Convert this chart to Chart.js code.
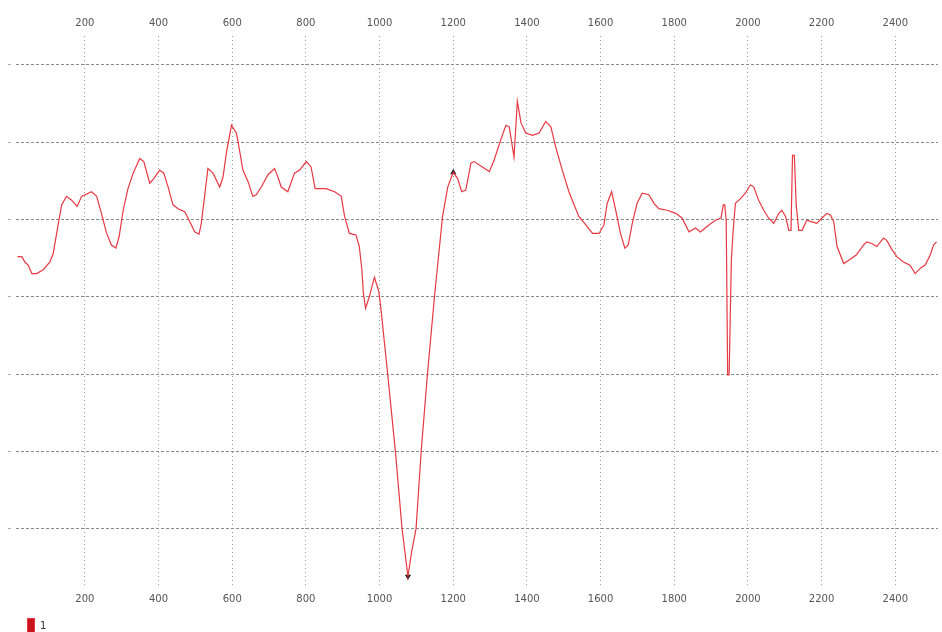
<!DOCTYPE html>
<html>
<head>
<meta charset="utf-8">
<script src="https://cdn.jsdelivr.net/npm/chart.js@4/dist/chart.umd.min.js"></script>
<style>
html,body{margin:0;padding:0;background:#fff;}
#wrap{width:942px;height:632px;overflow:hidden;}
</style>
</head>
<body>
<div id="wrap"><canvas id="c" width="942" height="632"></canvas></div>
<script>
const seriesLabel = '1';
const xValues = [
  17,29,37,46,56,69,87,105,114,128,
  137,150,164,179,191,218,232,245,259,272,
  284,293,304,317,331,349,360,376,387,403,
  414,426,439,453,471,485,498,510,516,525,
  534,548,566,575,584,598,611,615,629,643,
  656,665,679,697,715,724,733,751,769,783,
  801,814,825,855,878,896,905,918,936,945,
  952,956,962,972,986,998,1004,1022,1043,1061,
  1077,1087,1099,1113,1130,1149,1171,1185,1200,1212,
  1223,1234,1248,1257,1279,1298,1311,1329,1343,1352,
  1365,1374,1384,1397,1415,1433,1451,1465,1478,1496,
  1514,1528,1541,1560,1578,1596,1609,1618,1630,1641,
  1654,1666,1675,1686,1699,1713,1731,1745,1758,1781,
  1804,1821,1840,1858,1871,1894,1912,1927,1933,1937,
  1941,1945,1949,1955,1960,1966,1980,1993,2007,2016,
  2029,2043,2056,2070,2084,2092,2102,2111,2117,2121,
  2126,2131,2138,2147,2160,2174,2187,2201,2214,2224,
  2233,2242,2260,2276,2294,2314,2323,2336,2350,2368,
  2377,2391,2404,2422,2440,2454,2468,2481,2495,2504,2512
];
const yValues = [
  35.2,35.2,34.5,34.1,33.0,33.0,33.5,34.5,35.6,39.5,
  41.9,43.0,42.5,41.7,43.0,43.6,43.0,40.8,38.2,36.7,
  36.3,37.8,41.2,44.0,46.0,47.9,47.5,44.7,45.3,46.4,
  46.0,44.2,41.9,41.4,41.0,39.7,38.4,38.1,39.5,43.0,
  46.6,46.0,44.2,45.5,48.6,52.2,51.2,50.3,46.4,44.9,
  43.0,43.2,44.2,45.8,46.6,45.5,44.2,43.6,46.0,46.4,
  47.5,46.8,44.0,44.0,43.6,43.0,40.4,38.2,38.0,36.5,
  33.5,30.5,28.5,30.0,32.5,30.7,28.3,20.0,10.0,0.0,
  -6.2,-3.0,0.0,10.0,20.0,30.0,40.4,44.2,46.1,45.3,
  43.6,43.8,47.3,47.5,46.8,46.2,47.7,50.3,52.2,52.0,
  48.1,55.3,52.5,51.2,50.9,51.2,52.7,52.0,49.4,46.4,
  43.6,41.9,40.4,39.3,38.2,38.2,39.3,42.1,43.6,41.2,
  38.2,36.3,36.7,39.5,42.1,43.4,43.2,42.1,41.4,41.2,
  40.8,40.2,38.4,38.9,38.4,39.3,39.9,40.2,41.9,41.9,
  39.9,19.9,19.9,34.8,38.6,42.1,42.7,43.4,44.5,44.2,
  42.5,41.2,40.2,39.5,40.8,41.2,40.4,38.6,38.6,48.3,
  48.3,41.9,38.6,38.6,39.9,39.7,39.5,40.2,40.8,40.6,
  39.7,36.5,34.3,34.8,35.4,36.7,37.1,36.9,36.5,37.6,
  37.3,36.1,35.2,34.5,34.1,33.0,33.7,34.1,35.4,36.7,37.1
];
const markerX = [1200, 1077];
const markerY = [46.1, -6.2];
const markerRotation = [0, 180];
const xTickValues = [200,400,600,800,1000,1200,1400,1600,1800,2000,2200,2400];
const yGridValues = [0,10,20,30,40,50,60];
const X_MIN = 13, X_MAX = 2516, Y_MIN = -7.3, Y_MAX = 63.75;

const tickFont = {family: 'DejaVu Sans', size: 10};
const tickColor = '#555';

// legend swatch drawn below the plot, using the first dataset's label and colours
const swatchLegend = {
  id: 'swatchLegend',
  afterDraw(chart) {
    const ds = chart.data.datasets[0];
    const ctx = chart.ctx;
    ctx.save();
    ctx.fillStyle = ds.backgroundColor;
    ctx.strokeStyle = ds.borderColor;
    ctx.lineWidth = 1;
    ctx.fillRect(27, 618, 8, 16);
    ctx.strokeRect(27.5, 618.5, 7, 15);
    ctx.fillStyle = '#333';
    ctx.font = '10px "DejaVu Sans"';
    ctx.textBaseline = 'middle';
    ctx.textAlign = 'left';
    ctx.fillText(ds.label, 40, 626);
    ctx.restore();
  }
};

new Chart(document.getElementById('c').getContext('2d'), {
  type: 'line',
  data: {
    datasets: [
      {
        label: seriesLabel,
        data: xValues.map((x, i) => ({x: x, y: yValues[i]})),
        borderColor: 'rgb(232,56,66)',
        backgroundColor: '#c8141e',
        borderWidth: 1.2,
        pointRadius: 0,
        tension: 0
      },
      {
        label: 'markers',
        data: markerX.map((x, i) => ({x: x, y: markerY[i]})),
        showLine: false,
        pointStyle: 'triangle',
        pointRadius: 3.5,
        pointRotation: markerRotation,
        pointBackgroundColor: '#111',
        pointBorderColor: '#111',
        borderWidth: 0
      }
    ]
  },
  plugins: [swatchLegend],
  options: {
    responsive: false,
    animation: false,
    devicePixelRatio: 1,
    layout: {padding: {left: 0, right: 2, top: 0, bottom: 0}},
    plugins: {
      legend: {display: false},
      tooltip: {enabled: false}
    },
    scales: {
      x: {
        type: 'linear',
        position: 'bottom',
        min: X_MIN,
        max: X_MAX,
        afterBuildTicks: (a) => { a.ticks = xTickValues.map(v => ({value: v})); },
        afterFit: (s) => { s.height = 47; },
        grid: {color: '#9a9a9a', drawTicks: false, lineWidth: 1},
        border: {display: false, dash: [1, 3]},
        ticks: {padding: 8, color: tickColor, font: tickFont, maxRotation: 0, autoSkip: false,
                callback: (v) => String(v)}
      },
      x2: {
        type: 'linear',
        position: 'top',
        min: X_MIN,
        max: X_MAX,
        afterBuildTicks: (a) => { a.ticks = xTickValues.map(v => ({value: v})); },
        afterFit: (s) => { s.height = 36; },
        grid: {display: false, drawTicks: false},
        border: {display: false},
        ticks: {padding: 7, color: tickColor, font: tickFont, maxRotation: 0, autoSkip: false,
                callback: (v) => String(v)}
      },
      y: {
        type: 'linear',
        min: Y_MIN,
        max: Y_MAX,
        afterBuildTicks: (a) => { a.ticks = yGridValues.map(v => ({value: v})); },
        afterFit: (s) => { s.width = 16; },
        grid: {color: '#8a8a8a', drawTicks: true, tickLength: 8, tickColor: '#aaa', tickBorderDash: [3, 10]},
        border: {display: false, dash: [3, 2]},
        ticks: {display: false}
      }
    }
  }
});
</script>
</body>
</html>
